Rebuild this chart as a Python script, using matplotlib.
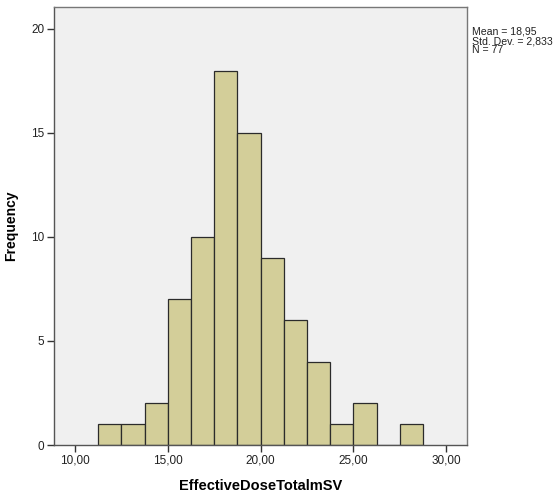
import numpy as np
import matplotlib
matplotlib.use("Agg")
import matplotlib.pyplot as plt

plt.rcParams['font.family'] = ['Liberation Sans', 'DejaVu Sans']

# histogram data (bin width 1.25, first bin starts at 11.25)
bin_edges = [11.25, 12.5, 13.75, 15.0, 16.25, 17.5, 18.75, 20.0,
             21.25, 22.5, 23.75, 25.0, 26.25, 27.5, 28.75]
counts = [1, 1, 2, 7, 10, 18, 15, 9, 6, 4, 1, 2, 0, 1]
x_ticks = [10, 15, 20, 25, 30]
x_ticklabels = ["10,00", "15,00", "20,00", "25,00", "30,00"]
y_ticks = [0, 5, 10, 15, 20]
stats_text = "Mean = 18,95\nStd. Dev. = 2,833\nN = 77"

fig = plt.figure(figsize=(5.56, 4.95), dpi=100)
ax = fig.add_axes([0.0971, 0.101, 0.743, 0.885])
ax.set_facecolor("#f0f0f0")

lefts = np.array(bin_edges[:-1])
widths = np.diff(bin_edges)
ax.bar(lefts, counts, width=widths, align="edge",
       color="#d3ce99", edgecolor="#2b2b2b", linewidth=0.9)

ax.set_xlim(8.87, 31.13)
ax.set_ylim(0, 21.06)
ax.set_xticks(x_ticks)
ax.set_xticklabels(x_ticklabels)
ax.set_yticks(y_ticks)
ax.tick_params(axis="both", labelsize=8.5, length=5, width=1,
               color="#333333", labelcolor="#222222", pad=2)

for s in ax.spines.values():
    s.set_color("#555555")
    s.set_linewidth(1.0)
ax.spines["top"].set_color("#777777")
ax.spines["right"].set_color("#777777")

ax.set_xlabel("EffectiveDoseTotalmSV", fontsize=10.5, fontweight="bold", labelpad=9)
ax.set_ylabel("Frequency", fontsize=10, fontweight="bold")
ax.yaxis.set_label_coords(-0.087, 0.5)

fig.text(472 / 556, 1 - 27 / 495, stats_text, fontsize=7.6, va="top", ha="left",
         color="#222222", linespacing=0.88)

fig.savefig("out.png", dpi=100)
